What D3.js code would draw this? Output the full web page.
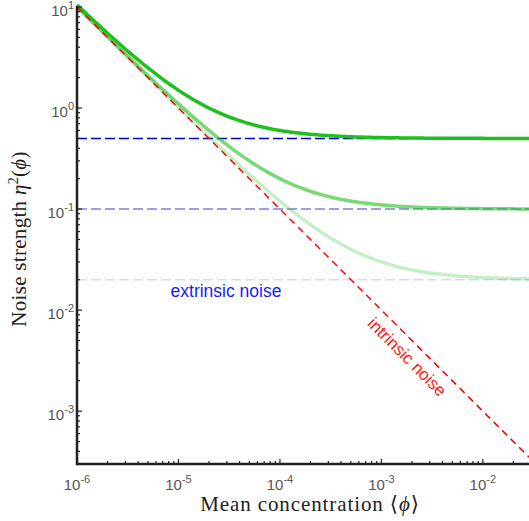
<!DOCTYPE html>
<html>
<head>
<meta charset="utf-8">
<script src="https://d3js.org/d3.v7.min.js"></script>
<style>
  body { margin: 0; background: white; }
</style>
</head>
<body>
<svg width="529" height="521"></svg>
<script>

  // data
  const xDomain = [1e-6, 0.0285];
  const yDomain = [3e-4, 10];
  const intrinsicCoef = 1e-5;               // eta^2 = c / phi
  const extrinsicLevels = [0.5, 0.1, 0.02];
  const blueOpacity = [1, 0.5, 0.15];
  const greenOpacity = [1, 0.6, 0.25];
  const xTickExp = [-6, -5, -4, -3, -2];
  const yTickExp = [-3, -2, -1, 0, 1];

  const svg = d3.select('svg');
  const mLeft = 77, mRight = 529, mTop = 7, mBottom = 464;

  const x = d3.scaleLog().domain(xDomain).range([mLeft, mRight]);
  const y = d3.scaleLog().domain(yDomain).range([mBottom, mTop]);

  // sample points along x for the curves
  const lx0 = Math.log10(xDomain[0]), lx1 = Math.log10(xDomain[1]);
  const phis = d3.range(0, 201).map(i => Math.pow(10, lx0 + i / 200 * (lx1 - lx0)));

  const line = d3.line().x(d => x(d[0])).y(d => y(d[1]));

  // extrinsic noise (dashed blue)
  extrinsicLevels.forEach((e, i) => {
    svg.append('path')
      .attr('d', line([[xDomain[0], e], [xDomain[1], e]]))
      .attr('fill', 'none')
      .attr('stroke', '#0000cc')
      .attr('stroke-opacity', blueOpacity[i])
      .attr('stroke-width', 1.5)
      .attr('stroke-dasharray', '10,4');
  });

  // total noise (green)
  extrinsicLevels.forEach((e, i) => {
    svg.append('path')
      .attr('d', line(phis.map(p => [p, intrinsicCoef / p + e])))
      .attr('fill', 'none')
      .attr('stroke', '#1fbf1f')
      .attr('stroke-opacity', greenOpacity[i])
      .attr('stroke-width', 3.5);
  });

  // intrinsic noise (dashed red)
  svg.append('path')
    .attr('d', line(phis.map(p => [p, intrinsicCoef / p]).filter(d => d[1] >= yDomain[0] * 0.99)))
    .attr('fill', 'none')
    .attr('stroke', '#ff0000')
    .attr('stroke-width', 1.5)
    .attr('stroke-dasharray', '7,5');

  // axes
  const tickLen = 5, minorLen = 3;
  const axisColor = '#222';

  const gx = svg.append('g');
  const gy = svg.append('g');

  for (let ex = -6; ex <= -2; ex++) {
    for (let m = 1; m <= 9; m++) {
      const v = m * Math.pow(10, ex);
      if (v > xDomain[1]) continue;
      gx.append('line')
        .attr('x1', x(v)).attr('x2', x(v))
        .attr('y1', mBottom).attr('y2', mBottom - (m === 1 ? tickLen : minorLen))
        .attr('stroke', axisColor).attr('stroke-width', 1.2);
    }
  }
  for (let ex = -4; ex <= 1; ex++) {
    for (let m = 1; m <= 9; m++) {
      const v = m * Math.pow(10, ex);
      if (v < yDomain[0] || v > yDomain[1]) continue;
      gy.append('line')
        .attr('x1', mLeft).attr('x2', mLeft + (m === 1 ? tickLen : minorLen))
        .attr('y1', y(v)).attr('y2', y(v))
        .attr('stroke', axisColor).attr('stroke-width', 1.2);
    }
  }

  svg.append('line')
    .attr('x1', mLeft).attr('x2', mRight)
    .attr('y1', mBottom).attr('y2', mBottom)
    .attr('stroke', axisColor).attr('stroke-width', 2.5);
  svg.append('line')
    .attr('x1', mLeft).attr('x2', mLeft)
    .attr('y1', mTop - 1).attr('y2', mBottom + 1.25)
    .attr('stroke', axisColor).attr('stroke-width', 2.5);

  // tick labels
  const tickFont = '"Liberation Sans", Arial, sans-serif';
  xTickExp.forEach(ex => {
    const t = svg.append('text')
      .attr('x', x(Math.pow(10, ex)))
      .attr('y', 490)
      .attr('text-anchor', 'middle')
      .style('font-family', tickFont)
      .style('font-size', '15px')
      .attr('fill', '#555');
    t.append('tspan').text('10');
    t.append('tspan').attr('dy', -7).style('font-size', '11px').text(ex);
  });
  yTickExp.forEach(ex => {
    const t = svg.append('text')
      .attr('x', 74)
      .attr('y', y(Math.pow(10, ex)) + 9)
      .attr('text-anchor', 'end')
      .style('font-family', tickFont)
      .style('font-size', '15px')
      .attr('fill', '#555');
    t.append('tspan').text('10');
    t.append('tspan').attr('dy', -7).style('font-size', '11px').text(ex);
  });

  // axis titles
  const serif = '"Liberation Serif", "DejaVu Serif", serif';
  const xt = svg.append('text')
    .attr('x', 310).attr('y', 511)
    .attr('text-anchor', 'middle')
    .style('font-family', serif)
    .style('font-size', '21px')
    .style('letter-spacing', '0.9px')
    .attr('fill', '#222');
  xt.append('tspan').text('Mean concentration \u27E8');
  xt.append('tspan').style('font-style', 'italic').text('\u03D5');
  xt.append('tspan').text('\u27E9');

  const yt = svg.append('text')
    .attr('transform', 'translate(26,239) rotate(-90)')
    .attr('text-anchor', 'middle')
    .style('font-family', serif)
    .style('font-size', '21px')
    .style('letter-spacing', '0.3px')
    .attr('fill', '#222');
  yt.append('tspan').text('Noise strength ');
  yt.append('tspan').style('font-style', 'italic').text('\u03B7');
  yt.append('tspan').attr('dy', -8).style('font-size', '14px').text('2');
  yt.append('tspan').attr('dy', 8).text('(');
  yt.append('tspan').style('font-style', 'italic').text('\u03D5');
  yt.append('tspan').text(')');

  // annotations
  svg.append('text')
    .attr('x', 226).attr('y', 297)
    .attr('text-anchor', 'middle')
    .style('font-family', tickFont)
    .style('font-size', '17.5px')
    .attr('fill', '#1a1aff')
    .text('extrinsic noise');

  svg.append('text')
    .attr('transform', 'translate(403,361) rotate(45)')
    .attr('text-anchor', 'middle')
    .style('font-family', tickFont)
    .style('font-size', '17px')
    .attr('fill', '#ff1a1a')
    .text('intrinsic noise');

</script>
</body>
</html>
